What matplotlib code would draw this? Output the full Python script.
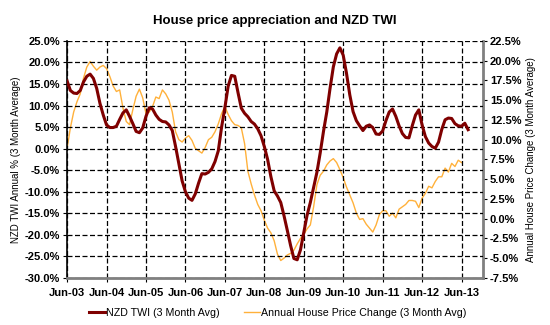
import matplotlib
matplotlib.use("Agg")
import matplotlib.pyplot as plt
from matplotlib.ticker import FuncFormatter, MultipleLocator

plt.rcParams['font.family'] = ['Liberation Sans', 'DejaVu Sans']

# monthly, Jun-03 onwards
tick_labels = ['Jun-03', 'Jun-04', 'Jun-05', 'Jun-06', 'Jun-07', 'Jun-08',
               'Jun-09', 'Jun-10', 'Jun-11', 'Jun-12', 'Jun-13']

nzd_twi = [15.7, 13.5, 12.9, 12.8, 13.5, 15.5, 16.8, 17.3, 16.3, 14.0,
           10.5, 7.8, 5.5, 4.9, 4.9, 5.2, 6.8, 8.3, 9.0, 7.5,
           5.8, 4.0, 3.7, 4.8, 7.5, 9.5, 9.2, 7.8, 6.8, 6.3,
           6.2, 5.5, 4.2, 0.5, -3.5, -7.5, -10.0, -11.5, -12.0, -10.5,
           -8.0, -5.8, -5.9, -5.5, -4.7, -3.0, -0.5, 5.0, 9.5, 14.5,
           17.0, 16.8, 13.0, 9.4, 8.2, 7.4, 6.3, 5.7, 4.6, 3.0,
           0.5, -2.5, -6.5, -9.8, -11.0, -12.5, -15.6, -19.0, -22.5, -25.5,
           -25.8, -23.5, -19.5, -15.5, -12.5, -9.0, -5.5, -1.0, 4.0, 8.5,
           14.0, 19.0, 22.0, 23.4, 21.7, 17.5, 12.5, 8.6, 6.5, 5.3,
           4.2, 5.2, 5.5, 4.9, 3.4, 3.3, 4.1, 6.5, 8.5, 9.2,
           7.5, 5.3, 3.5, 2.6, 2.5, 5.3, 7.8, 9.0, 5.5, 2.8,
           1.3, 0.5, 0.1, 1.5, 4.5, 6.7, 7.1, 7.0, 5.8, 5.3,
           5.2, 5.9, 4.4]

house_price = [8.9, 11.5, 13.5, 14.8, 15.8, 17.8, 19.2, 19.9, 19.3, 18.8,
               19.2, 19.4, 19.0, 18.0, 16.8, 16.1, 16.3, 14.0, 12.3, 11.9,
               13.8, 15.5, 16.4, 15.3, 13.3, 13.5, 14.2, 15.4, 15.2, 16.3,
               15.8, 15.0, 13.5, 11.0, 10.0, 9.7, 10.2, 10.5, 9.9, 8.9,
               8.6, 8.3, 9.0, 10.0, 10.3, 11.0, 12.0, 13.3, 14.2, 13.2,
               12.4, 11.9, 11.8, 11.5, 9.5, 6.0, 4.4, 3.0, 1.8, 1.0,
               -0.2, -1.2, -1.8, -2.8, -4.5, -5.3, -5.0, -4.6, -4.4, -4.0,
               -3.2, -2.5, -2.0, -1.3, -0.8, 1.5, 4.3, 5.5, 6.0, 6.8,
               7.3, 7.6, 7.1, 6.2, 5.2, 4.0, 3.0, 2.0, 0.7, -0.1,
               0.0, -0.7, -1.2, -1.7, -0.8, 0.5, 1.0, 1.0, 0.3, 0.7,
               0.1, 1.2, 1.5, 1.8, 2.3, 2.3, 2.2, 1.4, 2.6, 3.2,
               4.1, 3.9, 4.7, 5.3, 5.3, 6.4, 5.9, 7.0, 6.6, 7.4,
               7.1]

pct = FuncFormatter(lambda v, p: '%.1f%%' % v)

fig = plt.figure(figsize=(5.5, 3.25), dpi=100)
ax = fig.add_axes([0.122, 0.145, 0.756, 0.729])
ax2 = ax.twinx()

l1, = ax.plot(range(len(nzd_twi)), nzd_twi, color='#7f0000', lw=2.2,
              label='NZD TWI (3 Month Avg)', zorder=3)
l2, = ax2.plot(range(len(house_price)), house_price, color='#ffb13b', lw=1.0,
               label='Annual House Price Change (3 Month Avg)')
ax.set_zorder(ax2.get_zorder() + 1)
ax.patch.set_visible(False)

ax.set_xlim(0, 126.5)
ax.set_ylim(-30, 25)
ax2.set_ylim(-7.5, 22.5)
ax.yaxis.set_major_locator(MultipleLocator(5))
ax2.yaxis.set_major_locator(MultipleLocator(2.5))
ax.yaxis.set_major_formatter(pct)
ax2.yaxis.set_major_formatter(pct)
ax.set_xticks(range(0, 121, 12))
ax.set_xticklabels(tick_labels)

ax.grid(True, color='black', ls=(0, (4, 2)), lw=0.9)
for a in (ax, ax2):
    a.tick_params(labelsize=8, length=3, width=0.8, pad=2)
    for t in a.get_xticklabels() + a.get_yticklabels():
        t.set_fontweight('bold')
ax.tick_params(axis='x', pad=4)

ax.spines['top'].set_visible(False)
ax2.spines['top'].set_visible(False)
ax.spines['left'].set_color('black')
ax.spines['left'].set_linewidth(1.2)
ax2.spines['right'].set_color('#808080')
ax2.spines['right'].set_linewidth(2)
ax.spines['bottom'].set_color('#808080')
ax.spines['bottom'].set_linewidth(2)
ax2.spines['bottom'].set_visible(False)
ax2.spines['left'].set_visible(False)
ax.spines['right'].set_visible(False)

ax.set_ylabel('NZD TWI Annual % (3 Month Average)', fontsize=7, labelpad=3)
ax2.set_ylabel('Annual House Price Change (3 Month Average)', fontsize=7,
               labelpad=3)

fig.suptitle('House price appreciation and NZD TWI', fontsize=9.5,
             fontweight='bold', x=0.5, y=0.955)

fig.legend([l1, l2], [l1.get_label(), l2.get_label()], loc='center',
           bbox_to_anchor=(0.505, 0.037), ncol=2, frameon=False, fontsize=7.7,
           handlelength=1.5, handletextpad=0.1, columnspacing=2.3)

fig.savefig('out.png', dpi=100)
